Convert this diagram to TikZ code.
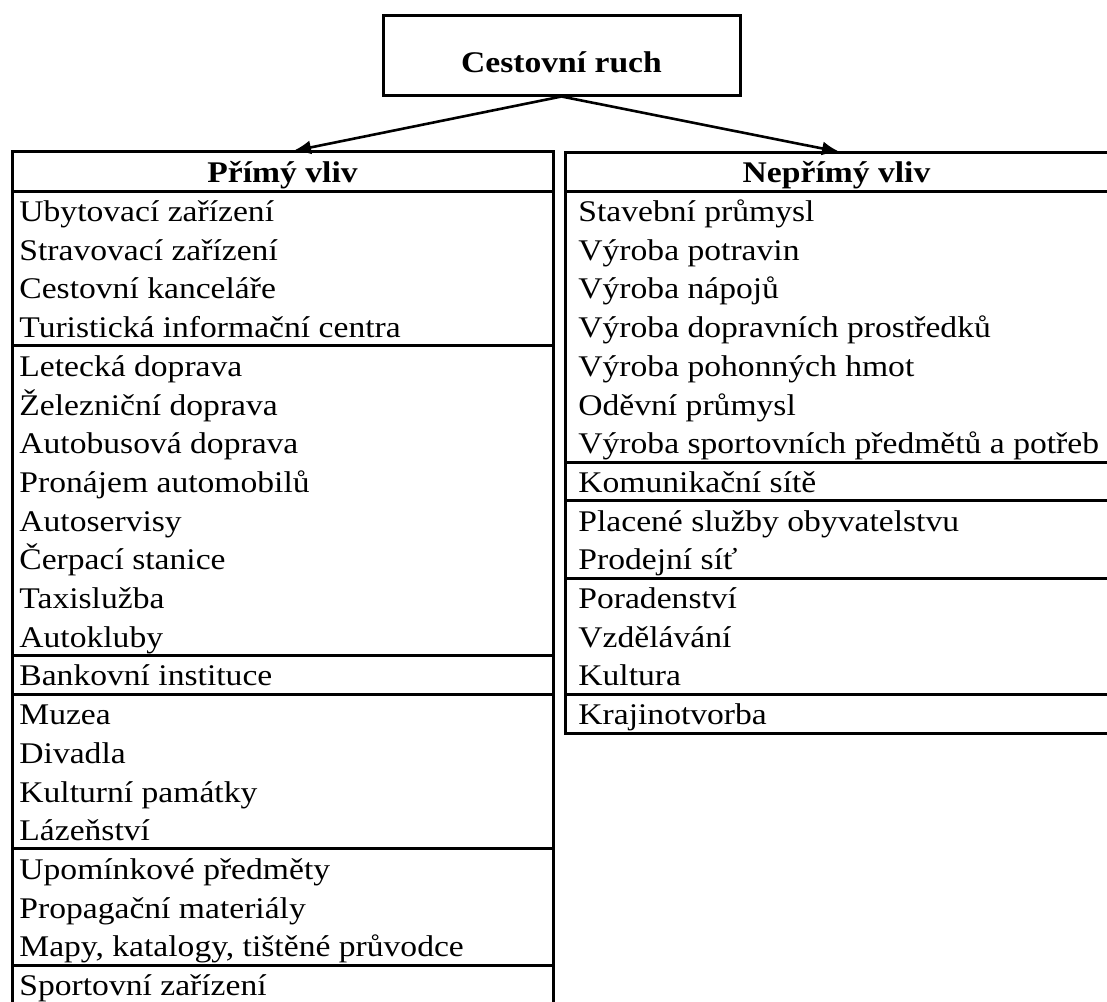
\documentclass[tikz,border=0pt]{standalone}
\usepackage{fontspec}
\setmainfont{Liberation Serif}[FakeStretch=1.12]
\usepackage{tikz}
\usetikzlibrary{arrows.meta,calc,positioning}

\begin{document}
\begin{tikzpicture}[x=0.5pt,y=-0.5pt,
  every node/.style={font=\fontsize{15}{18}\selectfont},
  item/.style={anchor=base west,inner sep=0pt},
  head/.style={anchor=base,inner sep=0pt,font=\fontsize{15}{18}\selectfont\bfseries},
  tab/.style={line width=1.5pt},
  box/.style={draw,line width=1.5pt,minimum width=178.5pt,minimum height=40pt,inner sep=0pt,text height=17pt,text depth=0pt,font=\fontsize{15}{18}\selectfont\bfseries}]
\clip (0,0) rectangle (1107,1001);
% top box and arrows
\node (T) at (561.5,55) [box] {Cestovní ruch};
\coordinate (A) at (293,151);
\coordinate (B) at (840,152);
\draw [line width=1.3pt,-{Latex[length=9pt,width=7pt]}] (T.south) -- (A);
\draw [line width=1.3pt,-{Latex[length=9pt,width=7pt]}] (T.south) -- (B);
% left table
\draw [tab] (12,151) rectangle (553,1004);
\draw [tab] (12,191)--(553,191) (12,345.8)--(553,345.8) (12,655.4)--(553,655.4)
  (12,694.1)--(553,694.1) (12,848.8)--(553,848.8) (12,965)--(553,965);
\node (P) at (282.5,182) [head] {Přímý vliv};
\node (L1) at (19,221.5) [item] {Ubytovací zařízení};
\node (L2) at (19,260.2) [item] {Stravovací zařízení};
\node (L3) at (19,298.9) [item] {Cestovní kanceláře};
\node (L4) at (19,337.6) [item] {Turistická informační centra};
\node (L5) at (19,376.3) [item] {Letecká doprava};
\node (L6) at (19,415.0) [item] {Železniční doprava};
\node (L7) at (19,453.7) [item] {Autobusová doprava};
\node (L8) at (19,492.4) [item] {Pronájem automobilů};
\node (L9) at (19,531.1) [item] {Autoservisy};
\node (L10) at (19,569.8) [item] {Čerpací stanice};
\node (L11) at (19,608.5) [item] {Taxislužba};
\node (L12) at (19,647.2) [item] {Autokluby};
\node (L13) at (19,685.9) [item] {Bankovní instituce};
\node (L14) at (19,724.6) [item] {Muzea};
\node (L15) at (19,763.3) [item] {Divadla};
\node (L16) at (19,802.0) [item] {Kulturní památky};
\node (L17) at (19,840.7) [item] {Lázeňství};
\node (L18) at (19,879.4) [item] {Upomínkové předměty};
\node (L19) at (19,918.1) [item] {Propagační materiály};
\node (L20) at (19,956.8) [item] {Mapy, katalogy, tištěné průvodce};
\node (L21) at (19,995.5) [item] {Sportovní zařízení};
% right table
\draw [tab] (565,152) rectangle (1110,733);
\draw [tab] (565,191)--(1110,191) (565,462.1)--(1110,462.1) (565,500.8)--(1110,500.8)
  (565,578.2)--(1110,578.2) (565,694.1)--(1110,694.1);
\node (N) at (836.5,182) [head] {Nepřímý vliv};
\node (R1) at (578,221.5) [item] {Stavební průmysl};
\node (R2) at (578,260.2) [item] {Výroba potravin};
\node (R3) at (578,298.9) [item] {Výroba nápojů};
\node (R4) at (578,337.6) [item] {Výroba dopravních prostředků};
\node (R5) at (578,376.3) [item] {Výroba pohonných hmot};
\node (R6) at (578,415.0) [item] {Oděvní průmysl};
\node (R7) at (578,453.7) [item] {Výroba sportovních předmětů a potřeb};
\node (R8) at (578,492.4) [item] {Komunikační sítě};
\node (R9) at (578,531.1) [item] {Placené služby obyvatelstvu};
\node (R10) at (578,569.8) [item] {Prodejní síť};
\node (R11) at (578,608.5) [item] {Poradenství};
\node (R12) at (578,647.2) [item] {Vzdělávání};
\node (R13) at (578,685.9) [item] {Kultura};
\node (R14) at (578,724.6) [item] {Krajinotvorba};
\end{tikzpicture}
\end{document}
